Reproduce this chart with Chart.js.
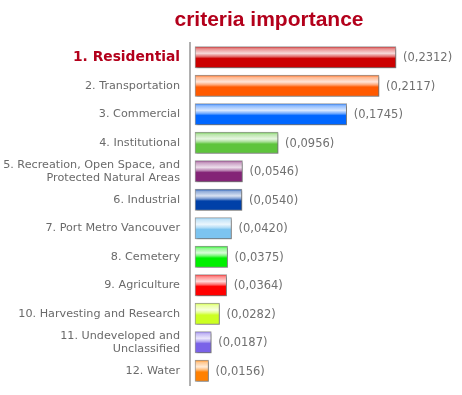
<!DOCTYPE html>
<html>
<head>
<meta charset="utf-8">
<script src="https://cdn.jsdelivr.net/npm/chart.js@4"></script>
<style>
  html, body { margin: 0; padding: 0; background: #fff; overflow: hidden; }
  #wrap { width: 462px; height: 395px; }
</style>
</head>
<body>
<div id="wrap"><canvas id="c"></canvas></div>
<script>
const TITLE = 'criteria importance';

const categories = [
    '1. Residential',
    '2. Transportation',
    '3. Commercial',
    '4. Institutional',
    ['5. Recreation, Open Space, and', 'Protected Natural Areas'],
    '6. Industrial',
    '7. Port Metro Vancouver',
    '8. Cemetery',
    '9. Agriculture',
    '10. Harvesting and Research',
    ['11. Undeveloped and', 'Unclassified'],
    '12. Water'
];

const weights = [0.2312, 0.2117, 0.1745, 0.0956, 0.0546, 0.0540, 0.0420, 0.0375, 0.0364, 0.0282, 0.0187, 0.0156];

const barColors = ['#cc0000', '#ff5a00', '#0066ff', '#5ec43c', '#842477', '#0040a8',
                   '#7cc4f0', '#00f000', '#ff0000', '#ccff22', '#7a62e8', '#ff8000'];

const BAR_H = 21.5;

// mix a hex colour with white, t = 0 keeps colour, t = 1 gives white
function tint(hex, t) {
    const n = parseInt(hex.slice(1), 16);
    const r = (n >> 16) & 255, g = (n >> 8) & 255, b = n & 255;
    const m = c => Math.round(c + (255 - c) * t);
    return `rgb(${m(r)},${m(g)},${m(b)})`;
}

// glassy vertical gradient, built per bar from the category scale
function barFill(ctx) {
    const chart = ctx.chart;
    const base = barColors[ctx.dataIndex];
    const yScale = chart.scales.y;
    if (!chart.chartArea || !yScale) return base;
    const yc = yScale.getPixelForValue(ctx.dataIndex);
    const g = chart.ctx.createLinearGradient(0, yc - BAR_H / 2, 0, yc + BAR_H / 2);
    g.addColorStop(0, base);
    g.addColorStop(0.1, tint(base, 0.55));
    g.addColorStop(0.32, tint(base, 0.85));
    g.addColorStop(0.46, tint(base, 0.45));
    g.addColorStop(0.56, base);
    g.addColorStop(1, base);
    return g;
}

const shadowPlugin = {
    id: 'barShadow',
    beforeDatasetsDraw(chart) {
        const c = chart.ctx;
        c.save();
        c.shadowColor = 'rgba(0,0,0,0.28)';
        c.shadowOffsetX = 1.5;
        c.shadowOffsetY = 1.5;
        c.shadowBlur = 2;
    },
    afterDatasetsDraw(chart) {
        chart.ctx.restore();
    }
};

// "(0,2312)" style labels after each bar, plus the title
const labelPlugin = {
    id: 'valueLabels',
    afterDraw(chart) {
        const c = chart.ctx;
        const meta = chart.getDatasetMeta(0);
        c.save();
        c.font = '11.5px "DejaVu Sans"';
        c.fillStyle = '#707070';
        c.textAlign = 'left';
        c.textBaseline = 'middle';
        meta.data.forEach((bar, i) => {
            const txt = '(' + weights[i].toFixed(4).replace('.', ',') + ')';
            c.fillText(txt, bar.x + 7, bar.y + 1);
        });
        c.font = 'bold 21px "Liberation Sans"';
        c.fillStyle = '#b3001b';
        c.textAlign = 'center';
        c.textBaseline = 'alphabetic';
        c.fillText(TITLE, chart.width / 2 + 38, 26);
        c.restore();
    }
};

new Chart(document.getElementById('c'), {
    type: 'bar',
    data: {
        labels: categories,
        datasets: [{
            data: weights,
            backgroundColor: barFill,
            borderColor: '#9a9a9a',
            borderWidth: 1,
            borderSkipped: false,
            barThickness: BAR_H
        }]
    },
    options: {
        indexAxis: 'y',
        responsive: true,
        maintainAspectRatio: false,
        animation: false,
        layout: { padding: { top: 43, bottom: 10, left: 0, right: 0 } },
        scales: {
            x: {
                display: false,
                min: -0.00575,
                max: 0.3072
            },
            y: {
                afterFit: s => {
                    s.width = 190;
                    s.paddingTop = 0;
                    s.paddingBottom = 0;
                },
                grid: { display: false, drawTicks: false },
                border: { display: true, color: '#b0b0b0', width: 2 },
                ticks: {
                    autoSkip: false,
                    padding: 10,
                    color: c => c.index === 0 ? '#b3001b' : '#6a6a6a',
                    font: c => c.index === 0
                        ? { family: '"DejaVu Sans"', size: 13.8, weight: 'bold', lineHeight: 1.15 }
                        : { family: '"DejaVu Sans"', size: 11.2, lineHeight: 1.15 }
                }
            }
        },
        plugins: {
            legend: { display: false },
            tooltip: { enabled: false },
            title: { display: false }
        }
    },
    plugins: [shadowPlugin, labelPlugin]
});
</script>
</body>
</html>
